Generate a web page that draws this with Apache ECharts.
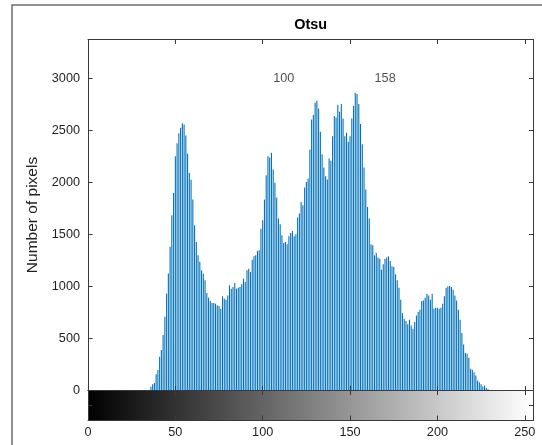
<!DOCTYPE html>
<html>
<head>
<meta charset="utf-8">
<script src="https://cdn.jsdelivr.net/npm/echarts/dist/echarts.min.js"></script>
<style>
  html, body { margin: 0; padding: 0; background: #ffffff; }
  #chart { width: 542px; height: 445px; }
</style>
</head>
<body>
<div id="chart"></div>
<script>
// Histogram of an 8-bit grayscale image with the two Otsu thresholds.
const chartTitle = 'Otsu';
const yAxisName = 'Number of pixels';
const xTickStep = 50;
const yTickStep = 500;
const yTopTick = 3000;
const grayRange = [0, 255];
const thresholds = [100, 158];
const thresholdLabelY = 3000;

// Pixel count per gray level 0..255
const pixelCounts = [
  0, 0, 0, 0, 0, 0, 0, 0, 0, 0, 0, 0, 0, 0, 0, 0,
  0, 0, 0, 0, 0, 0, 0, 0, 0, 0, 0, 0, 0, 0, 0, 0,
  0, 0, 0, 0, 36, 59, 72, 155, 196, 324, 388, 532, 708, 932, 1123, 1379,
  1682, 1896, 2248, 2375, 2471, 2523, 2567, 2554, 2449, 2273, 2088, 2024, 1833, 1586, 1426, 1299,
  1235, 1154, 1122, 1058, 936, 891, 859, 840, 840, 833, 817, 811, 785, 904, 881, 872,
  913, 1010, 978, 994, 1032, 978, 987, 994, 1019, 1074, 1042, 1154, 1170, 1138, 1256, 1288,
  1298, 1340, 1346, 1554, 1635, 1833, 2067, 2250, 2237, 2282, 2122, 1994, 1853, 1651, 1596, 1490,
  1417, 1426, 1404, 1481, 1513, 1532, 1481, 1500, 1660, 1699, 1811, 1779, 1949, 2003, 2035, 2314,
  2603, 2644, 2763, 2782, 2708, 2484, 2269, 2141, 2058, 2026, 2228, 2205, 2442, 2635, 2622, 2740,
  2676, 2750, 2612, 2442, 2474, 2388, 2442, 2612, 2731, 2859, 2846, 2750, 2558, 2365, 2141, 1929,
  1763, 1651, 1404, 1394, 1298, 1320, 1276, 1266, 1160, 1212, 1266, 1276, 1288, 1243, 1192, 1186,
  1115, 1058, 987, 872, 743, 689, 667, 635, 680, 625, 593, 657, 721, 753, 776, 859,
  865, 891, 930, 913, 872, 929, 785, 795, 795, 785, 795, 833, 904, 987, 1000, 1003,
  994, 968, 913, 865, 776, 680, 551, 442, 359, 353, 314, 208, 199, 176, 144, 96,
  80, 60, 38, 48, 25, 12, 0, 0, 0, 0, 0, 0, 0, 0, 0, 0,
  0, 0, 0, 0, 0, 0, 0, 0, 0, 0, 0, 0, 0, 0, 0, 0
];

const FONT = '"Liberation Sans", Arial, Helvetica, sans-serif';
const INK = '#1f1f1f';
const AXIS = '#3a3a3a';

const plotLeft = 88, plotTop = 39.5, plotWidth = 445.5, plotHeight = 351;
const barTop = plotTop + plotHeight, barHeight = 29.5;

function frameAxis(extra) {
  return Object.assign({
    type: 'value',
    axisLine: { show: true, onZero: false, lineStyle: { color: AXIS, width: 1 } },
    axisTick: { show: true, inside: true, length: 4.5, lineStyle: { color: AXIS, width: 1 } },
    axisLabel: { show: false },
    splitLine: { show: false },
    z: 10
  }, extra);
}

const chart = echarts.init(document.getElementById('chart'), null, { renderer: 'canvas' });

chart.setOption({
  animation: false,
  backgroundColor: '#ffffff',
  textStyle: { fontFamily: FONT },
  grid: [
    { left: plotLeft, top: plotTop, width: plotWidth, height: plotHeight },
    { left: plotLeft, top: barTop, width: plotWidth, height: barHeight }
  ],
  xAxis: [
    frameAxis({ gridIndex: 0, position: 'bottom', min: grayRange[0], max: grayRange[1], interval: xTickStep }),
    frameAxis({ gridIndex: 0, position: 'top', min: grayRange[0], max: grayRange[1], interval: xTickStep }),
    frameAxis({
      gridIndex: 1, position: 'bottom', min: grayRange[0], max: grayRange[1], interval: xTickStep,
      axisLabel: {
        show: true, margin: 6, fontSize: 12.7, color: INK, fontFamily: FONT,
        showMaxLabel: false,
        formatter: v => (v % xTickStep === 0 ? String(v) : '')
      }
    }),
    frameAxis({ gridIndex: 1, position: 'top', min: grayRange[0], max: grayRange[1], interval: xTickStep })
  ],
  yAxis: [
    frameAxis({
      gridIndex: 0, position: 'left', min: 0, max: 3370, interval: yTickStep,
      name: yAxisName, nameLocation: 'middle', nameRotate: 90, nameGap: 40,
      nameTextStyle: { fontSize: 15.5, color: INK, fontFamily: FONT },
      axisLabel: {
        show: true, margin: 8, fontSize: 12.7, color: INK, fontFamily: FONT,
        showMaxLabel: false,
        formatter: v => (v <= yTopTick && v % yTickStep === 0 ? String(v) : '')
      }
    }),
    frameAxis({ gridIndex: 0, position: 'right', min: 0, max: 3370, interval: yTickStep }),
    frameAxis({ gridIndex: 1, position: 'left', min: 0, max: 1, interval: 0.5 }),
    frameAxis({ gridIndex: 1, position: 'right', min: 0, max: 1, interval: 0.5 })
  ],
  graphic: [
    {
      type: 'polyline', silent: true, z: 100,
      shape: { points: [[12, 460], [12, 5], [560, 5]] },
      style: { stroke: '#6e6e6e', lineWidth: 1.5, fill: null }
    },
    {
      type: 'text', silent: true, z: 100,
      x: plotLeft + plotWidth / 2, y: 25,
      style: {
        text: chartTitle, align: 'center', verticalAlign: 'middle',
        font: 'bold 14.4px ' + FONT, fill: '#000000'
      }
    }
  ],
  series: [
    {
      name: 'counts',
      type: 'bar',
      xAxisIndex: 0, yAxisIndex: 0,
      barWidth: 1.1,
      silent: true,
      itemStyle: { color: '#0072BD' },
      data: pixelCounts.map((c, level) => [level, c])
    },
    {
      name: 'thresholds',
      type: 'scatter',
      xAxisIndex: 0, yAxisIndex: 0,
      silent: true,
      symbol: 'circle', symbolSize: 1,
      itemStyle: { color: 'rgba(0,0,0,0)' },
      label: {
        show: true, position: 'right', distance: 10,
        fontSize: 12.7, color: INK, fontFamily: FONT,
        formatter: p => String(p.value[2])
      },
      data: thresholds.map(t => [t, thresholdLabelY, t])
    },
    {
      name: 'grayscale',
      type: 'custom',
      xAxisIndex: 2, yAxisIndex: 2,
      silent: true,
      data: [[grayRange[0], grayRange[1]]],
      renderItem: (params, api) => {
        const a = api.coord([api.value(0), 1]);
        const b = api.coord([api.value(1), 0]);
        return {
          type: 'rect',
          shape: { x: a[0], y: a[1], width: b[0] - a[0], height: b[1] - a[1] },
          style: {
            fill: new echarts.graphic.LinearGradient(0, 0, 1, 0, [
              { offset: 0, color: '#000000' },
              { offset: 1, color: '#ffffff' }
            ])
          }
        };
      }
    }
  ]
});
</script>
</body>
</html>
